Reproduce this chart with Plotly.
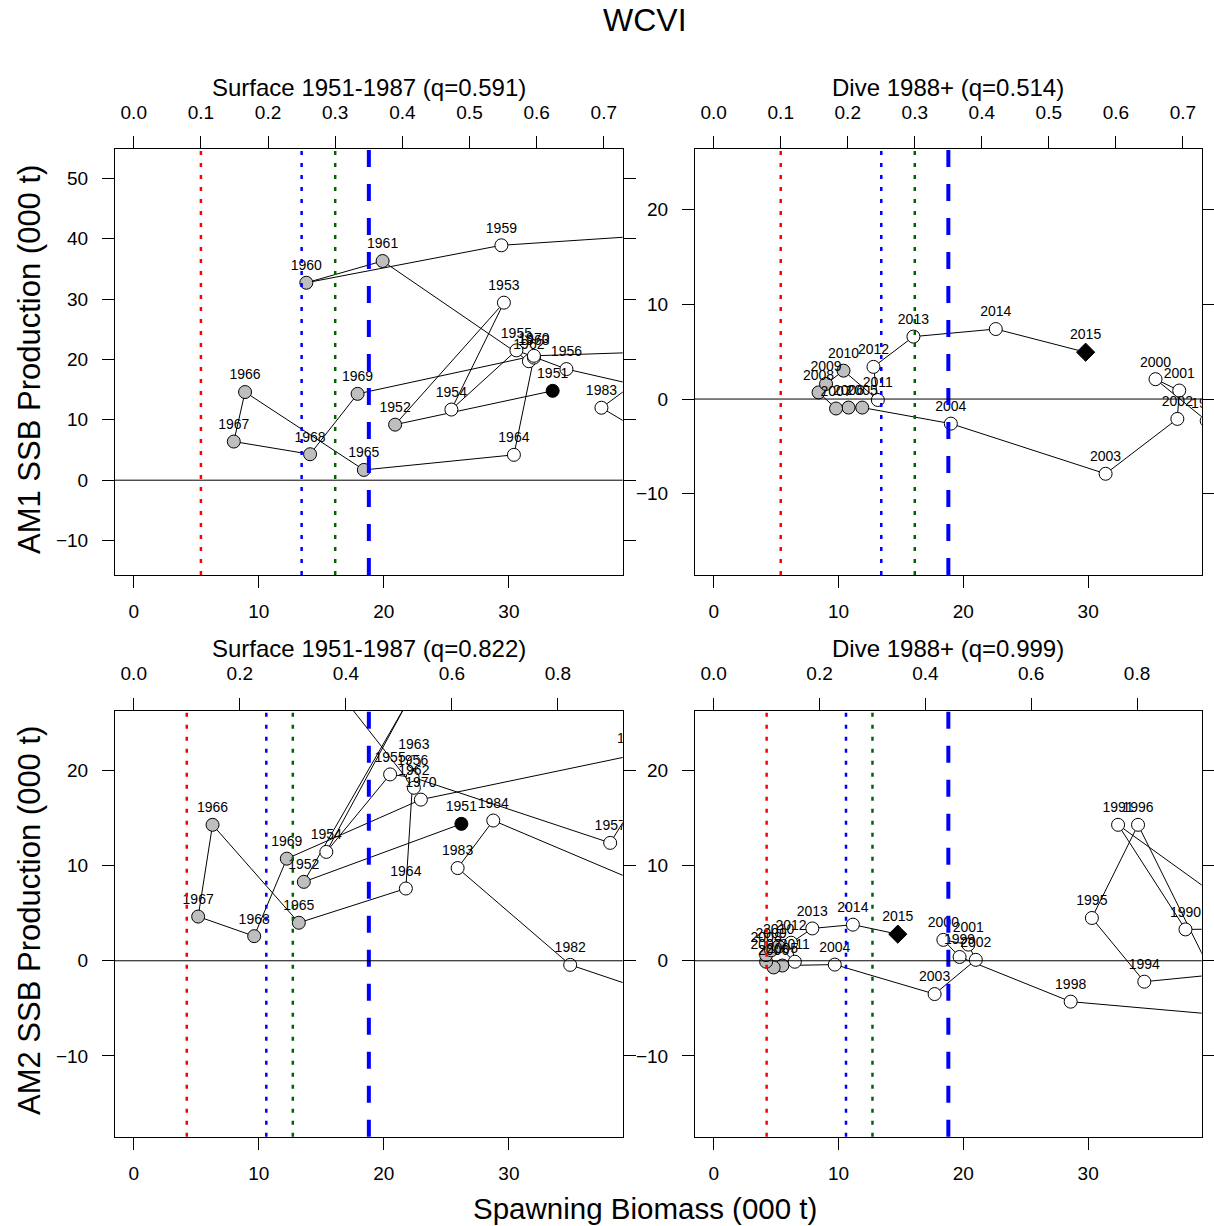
import plotly.graph_objects as go

# ---------------- data ----------------
years_surface = list(range(1951, 1988))
years_dive = list(range(1988, 2016))

# AM1, surface period (q=0.591): spawning biomass and production (000 t)
am1_surf_B = [33.5, 20.9, 29.6, 25.4, 30.6, 34.6, 46.0, 52.0, 29.4, 13.8,
              19.9, 31.6, 32.0, 30.4, 18.4, 8.9, 8.0, 14.1, 17.9, 32.0,
              60.0, None, None, None, None, None, None, None, None, None,
              None, 45.0, 37.4, 45.0, None, None, None]
am1_surf_P = [14.8, 9.2, 29.4, 11.7, 21.5, 18.4, 13.0, 42.0, 38.9, 32.7,
              36.3, 19.7, 20.3, 4.2, 1.7, 14.6, 6.4, 4.3, 14.3, 20.6,
              22.5, None, None, None, None, None, None, None, None, None,
              None, 23.6, 12.0, 2.6, None, None, None]

# AM1, dive period (q=0.514)
am1_dive_B = [None, None, None, None, None, None, None, None, None, None,
              None, 39.5, 35.4, 37.3, 37.15, 31.4, 19.0, 11.9, 10.8, 9.8,
              8.4, 9.0, 10.4, 13.15, 12.8, 16.0, 22.6, 29.8]
am1_dive_P = [None, None, None, None, None, None, None, None, None, None,
              None, -2.3, 2.1, 0.9, -2.1, -7.9, -2.6, -0.9, -0.9, -1.0,
              0.7, 1.6, 3.0, -0.1, 3.4, 6.6, 7.4, 4.95]

# AM2, surface period (q=0.822)
am2_surf_B = [26.2, 13.6, 21.8, 15.4, 20.5, 22.3, 38.1, 42.0, None, None,
              15.0, 22.4, 22.4, 21.76, 13.2, 6.3, 5.15, 9.63, 12.24, 22.96,
              39.9, None, None, None, None, None, None, None, None, None,
              45.0, 34.9, 25.9, 28.75, 45.0, None, None]
am2_surf_P = [14.4, 8.3, 27.0, 11.45, 19.6, 19.3, 12.4, 20.6, None, None,
              30.6, 18.2, 20.9, 7.6, 4.0, 14.3, 4.65, 2.59, 10.74, 16.95,
              21.6, None, None, None, None, None, None, None, None, None,
              -4.9, -0.43, 9.75, 14.75, 5.7, None, None]

# AM2, dive period (q=0.999)
am2_dive_B = [None, 45.0, 37.8, 32.4, 46.0, 48.0, 34.5, 30.3, 34.0, 41.6,
              28.6, 19.7, 18.4, 20.4, 21.0, 17.7, 9.7, 5.5, 4.8, 4.2,
              4.2, 4.6, 5.2, 6.5, 6.2, 7.9, 11.15, 14.75]
am2_dive_P = [None, 3.4, 3.3, 14.3, 1.7, -0.45, -2.2, 4.5, 14.3, -5.8,
              -4.3, 0.4, 2.2, 1.7, 0.1, -3.5, -0.4, -0.5, -0.7, -0.1,
              0.6, 1.1, 1.5, -0.1, 1.9, 3.4, 3.8, 2.8]

closed_years = [1952, 1960, 1961, 1965, 1966, 1967, 1968, 1969,
                2005, 2006, 2007, 2008, 2009, 2010]
first_year = 1951
last_year = 2015

panel_titles = ["Surface 1951-1987 (q=0.591)", "Dive 1988+ (q=0.514)",
                "Surface 1951-1987 (q=0.822)", "Dive 1988+ (q=0.999)"]
B0_values = [53.7, 53.7, 42.4, 42.4]
ref_depletion = [0.1, 0.25, 0.3]
cutoff = 18.8
x_ticks = [0, 10, 20, 30]
y_ticks_list = [[-10, 0, 10, 20, 30, 40, 50], [-10, 0, 10, 20],
                [-10, 0, 10, 20], [-10, 0, 10, 20]]
top_ticks_list = [[0.0, 0.1, 0.2, 0.3, 0.4, 0.5, 0.6, 0.7],
                  [0.0, 0.1, 0.2, 0.3, 0.4, 0.5, 0.6, 0.7],
                  [0.0, 0.2, 0.4, 0.6, 0.8],
                  [0.0, 0.2, 0.4, 0.6, 0.8]]
row_titles = ["AM1 SSB Production (000 t)", "AM2 SSB Production (000 t)"]
x_title = "Spawning Biomass (000 t)"
main_title = "WCVI"

series = [(years_surface, am1_surf_B, am1_surf_P),
          (years_dive, am1_dive_B, am1_dive_P),
          (years_surface, am2_surf_B, am2_surf_P),
          (years_dive, am2_dive_B, am2_dive_P)]

# ---------------- layout / style ----------------
W, H = 1214, 1226
FONT = "Liberation Sans, Arial, sans-serif"
x_range = [-1.5, 39.1]
y_ranges = [[-15.7, 54.8], [-18.6, 26.4], [-18.5, 26.3], [-18.5, 26.3]]
col_px = [(115, 622.7), (695, 1201.7)]
row_px = [(149.3, 575), (710.7, 1136.7)]


def xdom(c):
    return [col_px[c][0] / W, col_px[c][1] / W]


def ydom(r):
    return [1 - row_px[r][1] / H, 1 - row_px[r][0] / H]


def ax_id(letter, n):
    return letter if n == 1 else f"{letter}{n}"


fig = go.Figure()
layout = dict(width=W, height=H, margin=dict(l=0, r=0, t=0, b=0),
              paper_bgcolor="white", plot_bgcolor="white",
              showlegend=False, font=dict(family=FONT, color="black"))
shapes = []
annotations = []

for i in range(4):
    r, c = divmod(i, 2)
    n = i + 1
    xa, ya = ax_id("x", n), ax_id("y", n)
    xtop = ax_id("x", n + 4)
    years, B, P = series[i]
    colors, symbols, sizes, texts = [], [], [], []
    for yr in years:
        if yr == last_year:
            colors.append("#000000"); symbols.append("diamond"); sizes.append(14)
        elif yr == first_year:
            colors.append("#000000"); symbols.append("circle"); sizes.append(13)
        elif yr in closed_years:
            colors.append("#BEBEBE"); symbols.append("circle"); sizes.append(13)
        else:
            colors.append("#FFFFFF"); symbols.append("circle"); sizes.append(13)
        texts.append(str(yr))
    fig.add_trace(go.Scatter(
        x=B, y=P, xaxis=xa, yaxis=ya, mode="lines+markers+text",
        text=texts, textposition="top center",
        textfont=dict(family=FONT, size=14, color="black"),
        line=dict(color="black", width=1),
        marker=dict(color=colors, symbol=symbols, size=sizes, opacity=1,
                    line=dict(color="black", width=1)),
        hoverinfo="skip", connectgaps=False))
    # invisible trace so the top (depletion) axis is drawn
    fig.add_trace(go.Scatter(x=[0], y=[0], xaxis=xtop, yaxis=ya,
                             mode="markers", marker=dict(opacity=0),
                             hoverinfo="skip"))
    B0 = B0_values[i]
    axis_common = dict(showgrid=False, zeroline=False, ticks="outside",
                       ticklen=12, tickwidth=1, tickcolor="black",
                       tickfont=dict(family=FONT, size=19, color="black"))
    layout["xaxis" + ("" if n == 1 else str(n))] = dict(
        domain=xdom(c), range=x_range, anchor=ya, tickvals=x_ticks,
        showline=True, linecolor="black", linewidth=1, mirror=True,
        ticklabelstandoff=7, **axis_common)
    tt = top_ticks_list[i]
    layout[f"xaxis{n + 4}"] = dict(
        overlaying=xa, side="top", anchor=ya,
        range=[x_range[0] / B0, x_range[1] / B0], tickvals=tt,
        ticktext=[f"{v:.1f}" for v in tt], showline=False,
        ticklabelstandoff=10, **axis_common)
    layout["yaxis" + ("" if n == 1 else str(n))] = dict(
        domain=ydom(r), range=y_ranges[i], anchor=xa,
        tickvals=y_ticks_list[i], showline=True, linecolor="black",
        linewidth=1, mirror="ticks", ticklabelstandoff=10, **axis_common)
    # reference lines
    ref_styles = [("#FF0000", 2.5, "4px,8px"), ("#0000FF", 2.5, "4px,8px"),
                  ("#006400", 2.5, "4px,8px")]
    for d, (col, w, dash) in zip(ref_depletion, ref_styles):
        shapes.append(dict(type="line", xref=xa, yref=f"{ya} domain",
                           x0=d * B0, x1=d * B0, y0=0, y1=1,
                           line=dict(color=col, width=w, dash=dash)))
    shapes.append(dict(type="line", xref=xa, yref=f"{ya} domain",
                       x0=cutoff, x1=cutoff, y0=0, y1=1,
                       line=dict(color="#0000FF", width=4, dash="17px,17px")))
    shapes.append(dict(type="line", xref=f"{xa} domain", yref=ya,
                       x0=0, x1=1, y0=0, y1=0,
                       line=dict(color="black", width=1)))
    # panel title
    annotations.append(dict(text=panel_titles[i], xref="paper", yref="paper",
                            x=(col_px[c][0] + col_px[c][1]) / 2 / W,
                            y=1 - (row_px[r][0] - 62) / H,
                            showarrow=False, xanchor="center", yanchor="middle",
                            font=dict(family=FONT, size=24, color="black")))

annotations.append(dict(text=main_title, xref="paper", yref="paper",
                        x=645 / W, y=1 - 20 / H, showarrow=False,
                        xanchor="center", yanchor="middle",
                        font=dict(family=FONT, size=32, color="black")))
annotations.append(dict(text=x_title, xref="paper", yref="paper",
                        x=645 / W, y=1 - 1208 / H, showarrow=False,
                        xanchor="center", yanchor="middle",
                        font=dict(family=FONT, size=29.5, color="black")))
for r, (yc, t) in enumerate(zip([360, 921], row_titles)):
    annotations.append(dict(text=t, xref="paper", yref="paper",
                            x=29 / W, y=1 - yc / H, showarrow=False,
                            textangle=-90, xanchor="center", yanchor="middle",
                            font=dict(family=FONT, size=31, color="black")))

layout["shapes"] = shapes
layout["annotations"] = annotations
fig.update_layout(**layout)
fig.write_html("out.html")
